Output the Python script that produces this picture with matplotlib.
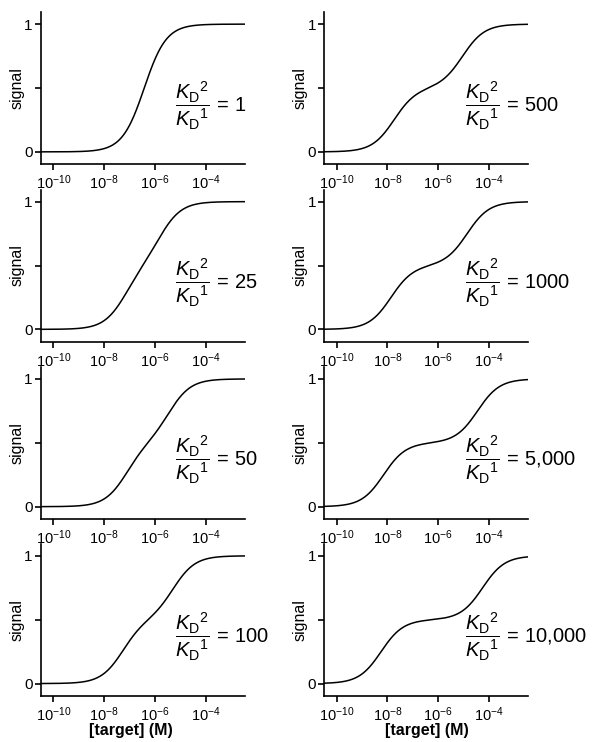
import numpy as np
import matplotlib
matplotlib.use("Agg")
import matplotlib.pyplot as plt
from matplotlib.ticker import FixedLocator, FixedFormatter, NullLocator

plt.rcParams["font.family"] = ["Liberation Sans", "DejaVu Sans"]
plt.rcParams["mathtext.fontset"] = "custom"
plt.rcParams["mathtext.rm"] = "Liberation Sans"
plt.rcParams["mathtext.it"] = "Liberation Sans:italic"
plt.rcParams["mathtext.bf"] = "Liberation Sans:bold"

# Panels in column order: left column top to bottom, then right column
kd_ratio = [1, 25, 50, 100, 500, 1000, 5000, 10000]
ratio_text = ["1", "25", "50", "100", "500", "1000", "5{,}000", "10{,}000"]
# log10 of the geometric mean of the two dissociation constants (M)
log_kd_mid = [-6.42, -6.48, -6.28, -6.27, -6.39, -6.36, -6.30, -6.25]

x_ticks = [1e-10, 1e-8, 1e-6, 1e-4]
x_tick_labels = [r"$10^{-10}$", r"$10^{-8}$", r"$10^{-6}$", r"$10^{-4}$"]
y_ticks = [0, 0.5, 1]
y_tick_labels = ["0", "", "1"]
x_range = (10 ** -10.5, 10 ** -2.45)
y_range = (-0.095, 1.095)


def signal(target, kd1, kd2):
    """Mixed receptor response: equal parts of two single-site receptors."""
    return 0.5 * target / (target + kd1) + 0.5 * target / (target + kd2)


W, H = 592, 742
fig = plt.figure(figsize=(W / 100, H / 100), dpi=100)

col_left = [40.7, 324.0]
row_bottom = [164.0, 341.5, 518.8, 695.7]
ax_w, ax_h = 204.3, 152.0
label_x = [0.657, 0.692]
xlabel_center = [131.0, 427.0]

target = np.logspace(np.log10(x_range[0]), np.log10(x_range[1]), 600)
frac = r"$\dfrac{K_{\mathrm{D}}{}^{2}}{K_{\mathrm{D}}{}^{1}}$"

for i, (r, rtxt, mid) in enumerate(zip(kd_ratio, ratio_text, log_kd_mid)):
    col, row = divmod(i, 4)
    ax = fig.add_axes([col_left[col] / W, 1 - row_bottom[row] / H, ax_w / W, ax_h / H])
    kd1 = 10 ** mid / np.sqrt(r)
    kd2 = 10 ** mid * np.sqrt(r)
    ax.plot(target, signal(target, kd1, kd2), color="black", lw=1.1)
    ax.set_xscale("log")
    ax.set_xlim(*x_range)
    ax.set_ylim(*y_range)

    ax.xaxis.set_major_locator(FixedLocator(x_ticks))
    ax.xaxis.set_major_formatter(FixedFormatter(x_tick_labels))
    ax.xaxis.set_minor_locator(NullLocator())
    ax.yaxis.set_major_locator(FixedLocator(y_ticks))
    ax.yaxis.set_major_formatter(FixedFormatter(y_tick_labels))

    for side in ("top", "right"):
        ax.spines[side].set_visible(False)
    for side in ("left", "bottom"):
        ax.spines[side].set_linewidth(1.2)
    ax.tick_params(axis="both", direction="out", length=4.3, width=1.2, color="black")
    ax.tick_params(axis="y", labelsize=11, pad=1.5)
    ax.tick_params(axis="x", labelsize=10.5, pad=2.5)

    ax.set_ylabel("signal", fontsize=11.5)
    ax.yaxis.set_label_coords(-0.078, 0.5)

    ax.text(label_x[col], 0.385, frac + r"$\,=\,$" + "$" + rtxt + "$",
            transform=ax.transAxes, ha="left", va="center", fontsize=14.5,
            clip_on=False)

    if row == 3:
        fig.text(xlabel_center[col] / W, 1 - 730 / H, "[target] (M)",
                 ha="center", va="center", fontsize=11.5, fontweight="bold")

fig.savefig("out.png", dpi=100)
